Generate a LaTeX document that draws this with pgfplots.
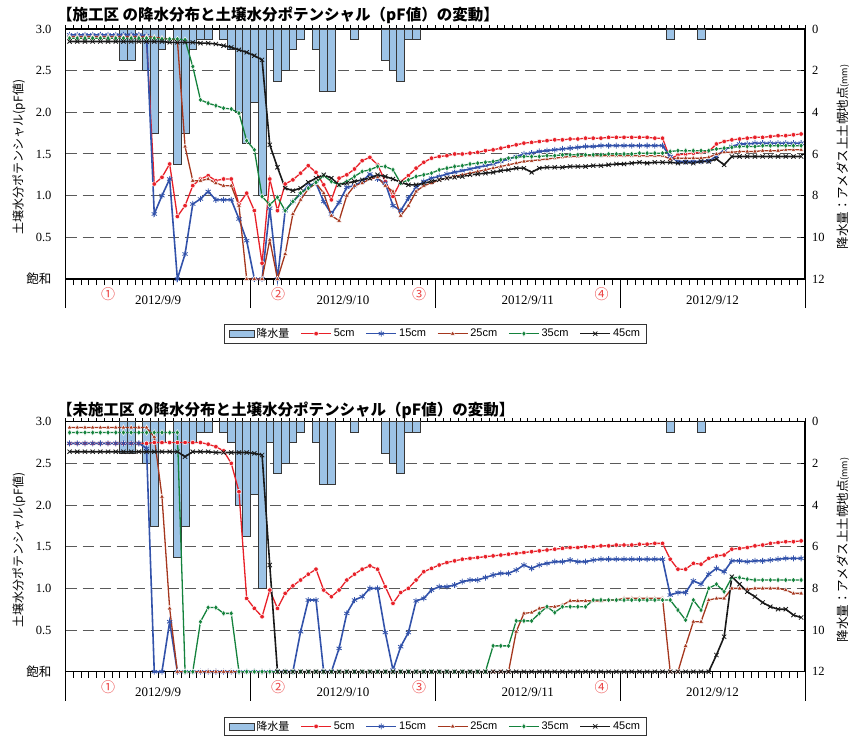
\documentclass[border=0pt]{standalone}
\usepackage{pgfplots}
\pgfplotsset{compat=1.18}
\usepackage{pgfplotstable}
\usepackage{fontspec}
\setmainfont{Liberation Serif}
\newfontfamily\jp{Noto Sans CJK JP}
\newfontfamily\lsans{Liberation Sans}

\definecolor{c5}{RGB}{232,32,40}
\definecolor{c15}{RGB}{50,82,170}
\definecolor{c25}{RGB}{165,55,30}
\definecolor{c35}{RGB}{20,130,60}
\definecolor{c45}{RGB}{25,25,25}
\definecolor{barfill}{RGB}{157,195,230}
\definecolor{baredge}{RGB}{55,55,55}
\definecolor{gridc}{RGB}{90,90,90}
\definecolor{numred}{RGB}{235,70,70}

% hourly rainfall (mm), hour index 1..96 from 2012/9/9 0:00
\pgfplotstableread{
i mm
8 1.5
9 1.5
11 2.0
12 5.0
13 1.0
15 6.5
16 5.0
17 1.0
18 0.5
19 0.5
21 0.5
22 1.0
23 4.0
24 5.5
25 3.5
26 8.0
27 1.0
28 2.5
29 2.0
30 1.0
31 0.5
33 1.0
34 3.0
35 3.0
38 0.5
42 1.5
43 2.0
44 2.5
45 0.5
46 0.5
79 0.5
83 0.5
}\rain

% pF values, treated plot: r=5cm b=15cm t=25cm g=35cm k=45cm
\pgfplotstableread{
i r b t g k
1 2.89 2.93 2.91 2.89 2.85
2 2.89 2.93 2.91 2.89 2.85
3 2.89 2.93 2.91 2.89 2.85
4 2.89 2.93 2.91 2.89 2.85
5 2.89 2.93 2.91 2.89 2.85
6 2.89 2.93 2.91 2.89 2.85
7 2.89 2.93 2.91 2.89 2.85
8 2.89 2.93 2.91 2.89 2.85
9 2.89 2.93 2.91 2.89 2.85
10 2.89 2.93 2.91 2.89 2.85
11 2.89 2.92 2.91 2.89 2.85
12 1.14 0.78 2.90 2.89 2.85
13 1.22 1.00 2.89 2.88 2.85
14 1.38 1.20 2.88 2.88 2.84
15 0.75 0.00 2.87 2.88 2.84
16 0.88 0.30 1.59 2.87 2.84
17 1.12 0.90 1.18 2.55 2.84
18 1.20 0.96 1.18 2.15 2.83
19 1.24 1.05 1.20 2.11 2.83
20 1.18 0.95 1.15 2.08 2.82
21 1.20 0.95 1.12 2.05 2.80
22 1.20 0.95 1.12 2.04 2.78
23 0.90 0.72 0.88 1.99 2.75
24 1.03 0.46 0.00 1.66 2.72
25 0.82 0.00 0.00 1.55 2.68
26 0.19 0.00 0.00 0.99 2.63
27 1.20 0.85 0.47 0.89 1.61
28 0.82 0.00 0.00 0.98 1.34
29 1.14 0.82 0.30 0.82 1.09
30 1.19 0.93 0.78 0.93 1.06
31 1.27 1.02 0.95 1.03 1.09
32 1.36 1.12 1.08 1.09 1.16
33 1.28 1.15 1.15 1.16 1.21
34 1.13 0.93 1.03 1.24 1.25
35 0.95 0.78 0.76 1.17 1.21
36 1.21 0.92 0.70 1.13 1.13
37 1.25 1.10 1.00 1.17 1.15
38 1.32 1.12 1.12 1.23 1.17
39 1.42 1.17 1.15 1.29 1.19
40 1.46 1.26 1.20 1.31 1.21
41 1.37 1.20 1.22 1.35 1.25
42 1.17 1.15 1.12 1.35 1.23
43 0.99 0.88 1.05 1.31 1.20
44 1.17 0.82 0.76 1.15 1.16
45 1.24 0.97 0.88 1.19 1.13
46 1.33 1.10 1.05 1.23 1.13
47 1.40 1.17 1.12 1.25 1.15
48 1.45 1.21 1.15 1.27 1.17
49 1.47 1.23 1.19 1.31 1.19
50 1.48 1.26 1.21 1.33 1.21
51 1.50 1.28 1.23 1.35 1.22
52 1.50 1.30 1.25 1.36 1.23
53 1.51 1.32 1.27 1.38 1.25
54 1.52 1.34 1.29 1.39 1.26
55 1.54 1.36 1.31 1.40 1.27
56 1.55 1.38 1.33 1.41 1.28
57 1.57 1.41 1.35 1.43 1.30
58 1.59 1.44 1.37 1.45 1.31
59 1.61 1.47 1.39 1.46 1.33
60 1.63 1.50 1.41 1.47 1.33
61 1.64 1.51 1.42 1.47 1.28
62 1.65 1.53 1.43 1.47 1.33
63 1.66 1.54 1.44 1.48 1.34
64 1.67 1.55 1.45 1.48 1.34
65 1.67 1.56 1.46 1.49 1.34
66 1.68 1.57 1.47 1.49 1.35
67 1.68 1.58 1.47 1.49 1.35
68 1.69 1.59 1.48 1.49 1.35
69 1.69 1.59 1.48 1.49 1.36
70 1.69 1.60 1.48 1.49 1.36
71 1.70 1.60 1.48 1.50 1.37
72 1.70 1.60 1.48 1.50 1.38
73 1.70 1.60 1.48 1.50 1.38
74 1.70 1.60 1.48 1.50 1.39
75 1.70 1.60 1.48 1.51 1.40
76 1.70 1.60 1.48 1.51 1.39
77 1.69 1.60 1.48 1.51 1.40
78 1.69 1.60 1.48 1.51 1.40
79 1.44 1.47 1.44 1.53 1.40
80 1.49 1.41 1.45 1.54 1.39
81 1.50 1.41 1.45 1.54 1.40
82 1.51 1.41 1.45 1.54 1.39
83 1.52 1.41 1.45 1.54 1.41
84 1.53 1.42 1.46 1.54 1.41
85 1.62 1.47 1.50 1.56 1.44
86 1.65 1.55 1.52 1.57 1.37
87 1.67 1.59 1.52 1.58 1.47
88 1.68 1.62 1.53 1.59 1.47
89 1.69 1.62 1.53 1.59 1.47
90 1.70 1.63 1.53 1.59 1.47
91 1.70 1.63 1.54 1.60 1.47
92 1.71 1.63 1.54 1.60 1.47
93 1.72 1.63 1.54 1.60 1.47
94 1.72 1.63 1.55 1.60 1.47
95 1.73 1.63 1.55 1.60 1.47
96 1.74 1.63 1.55 1.60 1.47
}\treated

% pF values, untreated plot
\pgfplotstableread{
i r b t g k
1 2.74 2.74 2.93 2.87 2.64
2 2.74 2.74 2.93 2.87 2.64
3 2.74 2.74 2.93 2.87 2.64
4 2.74 2.74 2.93 2.87 2.64
5 2.74 2.74 2.93 2.87 2.64
6 2.74 2.74 2.93 2.87 2.64
7 2.74 2.74 2.93 2.87 2.64
8 2.74 2.74 2.93 2.87 2.64
9 2.74 2.74 2.93 2.87 2.64
10 2.74 2.74 2.93 2.87 2.64
11 2.74 2.68 2.93 2.87 2.64
12 2.75 0.00 2.82 2.87 2.64
13 2.75 0.00 2.10 2.87 2.64
14 2.75 0.60 0.76 2.87 2.64
15 2.75 0.00 0.00 2.87 2.64
16 2.75 0.00 0.00 0.00 2.58
17 2.75 0.00 0.00 0.00 2.64
18 2.75 0.00 0.00 0.60 2.64
19 2.73 0.00 0.00 0.77 2.64
20 2.70 0.00 0.00 0.77 2.63
21 2.65 0.00 0.00 0.70 2.63
22 2.50 0.00 0.00 0.70 2.63
23 2.16 0.00 0.00 0.00 2.63
24 0.88 0.00 0.00 0.00 2.63
25 0.76 0.00 0.00 0.00 2.62
26 0.66 0.00 0.00 0.00 2.60
27 0.98 0.00 0.00 0.00 1.28
28 0.76 0.00 0.00 0.00 0.00
29 0.94 0.00 0.00 0.00 0.00
30 1.03 0.00 0.00 0.00 0.00
31 1.10 0.48 0.00 0.00 0.00
32 1.17 0.86 0.00 0.00 0.00
33 1.23 0.86 0.00 0.00 0.00
34 0.98 0.00 0.00 0.00 0.00
35 0.90 0.00 0.00 0.00 0.00
36 0.98 0.28 0.00 0.00 0.00
37 1.10 0.70 0.00 0.00 0.00
38 1.17 0.86 0.00 0.00 0.00
39 1.23 0.90 0.00 0.00 0.00
40 1.27 1.00 0.00 0.00 0.00
41 1.23 1.00 0.00 0.00 0.00
42 1.02 0.47 0.00 0.00 0.00
43 0.82 0.02 0.00 0.00 0.00
44 0.95 0.30 0.00 0.00 0.00
45 1.00 0.47 0.00 0.00 0.00
46 1.10 0.85 0.00 0.00 0.00
47 1.20 0.88 0.00 0.00 0.00
48 1.24 0.98 0.00 0.00 0.00
49 1.28 1.02 0.00 0.00 0.00
50 1.31 1.02 0.00 0.00 0.00
51 1.33 1.04 0.00 0.00 0.00
52 1.35 1.08 0.00 0.00 0.00
53 1.36 1.10 0.00 0.00 0.00
54 1.37 1.10 0.00 0.00 0.00
55 1.38 1.13 0.00 0.00 0.00
56 1.39 1.16 0.00 0.31 0.00
57 1.40 1.18 0.00 0.31 0.00
58 1.41 1.18 0.00 0.31 0.00
59 1.42 1.22 0.48 0.61 0.00
60 1.43 1.28 0.70 0.61 0.00
61 1.44 1.24 0.71 0.61 0.00
62 1.45 1.28 0.76 0.70 0.00
63 1.46 1.30 0.78 0.78 0.00
64 1.47 1.32 0.78 0.71 0.00
65 1.48 1.32 0.80 0.78 0.00
66 1.49 1.34 0.85 0.78 0.00
67 1.49 1.32 0.85 0.78 0.00
68 1.50 1.32 0.85 0.78 0.00
69 1.50 1.34 0.85 0.86 0.00
70 1.51 1.35 0.85 0.86 0.00
71 1.51 1.35 0.86 0.86 0.00
72 1.52 1.35 0.86 0.86 0.00
73 1.52 1.35 0.88 0.86 0.00
74 1.52 1.35 0.88 0.86 0.00
75 1.53 1.35 0.88 0.86 0.00
76 1.53 1.35 0.88 0.86 0.00
77 1.54 1.35 0.88 0.86 0.00
78 1.54 1.35 0.88 0.86 0.00
79 1.35 0.92 0.00 0.86 0.00
80 1.23 0.95 0.00 0.74 0.00
81 1.23 0.95 0.31 0.62 0.00
82 1.30 1.09 0.60 0.86 0.00
83 1.29 1.05 0.60 0.74 0.00
84 1.36 1.17 0.86 1.00 0.00
85 1.39 1.24 0.88 1.05 0.20
86 1.40 1.20 0.88 0.96 0.42
87 1.47 1.33 1.00 1.13 1.14
88 1.48 1.33 1.00 1.13 1.05
89 1.49 1.32 0.99 1.11 0.96
90 1.51 1.33 1.00 1.10 0.90
91 1.52 1.33 1.00 1.10 0.83
92 1.54 1.34 1.00 1.10 0.78
93 1.55 1.35 1.00 1.10 0.75
94 1.56 1.36 0.98 1.10 0.75
95 1.56 1.36 0.94 1.10 0.68
96 1.57 1.36 0.94 1.10 0.65
}\untreated

\pgfplotsset{
  panel/.style={scale only axis, width=739.3pt, height=250pt, anchor=south west,
    xmin=0.5, xmax=96.5, axis line style={line width=1.2pt, black}},
  % rainfall hangs from the top edge: drawn downwards as negative depth
  rainaxis/.style={panel, ymin=-12, ymax=0,
    axis x line*=top, axis y line*=right,
    xtick={0.5,1.5,...,96.5}, xticklabels={},
    ytick={-12,-10,-8,-6,-4,-2,0}, yticklabels={12,10,8,6,4,2,0},
    yticklabel style={font=\fontsize{12.5}{13}\selectfont, anchor=west, inner sep=0pt, xshift=7pt},
    tick align=inside, major tick length=3.5pt,
    tick style={black, line width=0.8pt},
    ymajorgrids, grid style={gridc, line width=1pt, dash pattern=on 11pt off 6pt},
    ybar, bar width=1},
  pfaxis/.style={panel, ymin=0, ymax=3, clip=false,
    axis x line*=bottom, axis y line*=left,
    xtick={0.5,1.5,...,96.5}, xticklabels={},
    tick align=outside, major tick length=6pt,
    xtick style={black, line width=0.8pt},
    extra x ticks={0.5,24.5,48.5,72.5,96.5}, extra x tick labels={},
    extra x tick style={major tick length=29pt, tick style={black!70, line width=1pt}},
    ytick={0,0.5,1,1.5,2,2.5,3},
    yticklabels={{\jp 飽和},0.5,1.0,1.5,2.0,2.5,3.0},
    ytick style={draw=none},
    yticklabel style={font=\fontsize{12.5}{13}\selectfont, anchor=east, inner sep=0pt, xshift=-8pt},
    legend style={at={(0.5,-0.18)}, anchor=north, legend columns=-1, draw=black!80,
      line width=0.6pt, font=\fontsize{11}{13}\selectfont\lsans, inner xsep=4pt, inner ysep=2pt,
      /tikz/every even column/.append style={column sep=9pt}},
    legend image code/.code={\draw[mark repeat=2,mark phase=2,#1] plot coordinates {(0pt,0pt) (15pt,0pt) (30pt,0pt)};}},
  s5/.style={c5, line width=1.3pt, mark=*, mark size=2.3pt, mark options={fill=c5, draw=white, line width=0.5pt}},
  s15/.style={c15, line width=1.6pt, mark=asterisk, mark size=3pt, mark options={line width=0.8pt}},
  s25/.style={c25, line width=1.3pt, mark=triangle*, mark size=2.8pt, mark options={fill=c25, draw=white, line width=0.5pt}},
  s35/.style={c35, line width=1.3pt, mark=diamond*, mark size=2.9pt, mark options={fill=c35, draw=white, line width=0.5pt}},
  s45/.style={c45, line width=1.6pt, mark=x, mark size=3pt, mark options={line width=0.8pt}},
}

\newcommand{\daylabels}{%
  \node[font=\fontsize{13}{13}\selectfont] at (axis cs:12.5,0) [yshift=-21pt] {2012/9/9};
  \node[font=\fontsize{13}{13}\selectfont] at (axis cs:36.5,0) [yshift=-21pt] {2012/9/10};
  \node[font=\fontsize{13}{13}\selectfont] at (axis cs:60.5,0) [yshift=-21pt] {2012/9/11};
  \node[font=\fontsize{13}{13}\selectfont] at (axis cs:84.5,0) [yshift=-21pt] {2012/9/12};
  \node[font=\jp\fontsize{14}{14}\selectfont, text=numred] at (axis cs:6.0,0) [yshift=-15pt] {①};
  \node[font=\jp\fontsize{14}{14}\selectfont, text=numred] at (axis cs:28.1,0) [yshift=-15pt] {②};
  \node[font=\jp\fontsize{14}{14}\selectfont, text=numred] at (axis cs:46.4,0) [yshift=-15pt] {③};
  \node[font=\jp\fontsize{14}{14}\selectfont, text=numred] at (axis cs:70.1,0) [yshift=-15pt] {④};
}

\begin{document}
\begin{tikzpicture}
\useasboundingbox (0pt,0pt) rectangle (855pt,-738pt);

% ---------- treated plot ----------
\begin{axis}[rainaxis, at={(65.7pt,-279pt)}]
  \addplot[fill=barfill, draw=baredge, line width=0.7pt] table[x=i,y expr=-\thisrow{mm}]{\rain};
\end{axis}
\begin{axis}[pfaxis, at={(65.7pt,-279pt)}]
  \addlegendimage{legend image code/.code={\draw[fill=barfill,draw=baredge,line width=0.7pt] (0pt,-3.5pt) rectangle (25pt,3.5pt);}}
  \addlegendentry{\jp 降水量}
  \addplot[s5] table[x=i,y=r]{\treated}; \addlegendentry{5cm}
  \addplot[s15] table[x=i,y=b]{\treated}; \addlegendentry{15cm}
  \addplot[s25] table[x=i,y=t]{\treated}; \addlegendentry{25cm}
  \addplot[s35] table[x=i,y=g]{\treated}; \addlegendentry{35cm}
  \addplot[s45] table[x=i,y=k]{\treated}; \addlegendentry{45cm}
  \daylabels
\end{axis}

% ---------- untreated plot ----------
\begin{axis}[rainaxis, at={(65.7pt,-671.7pt)}]
  \addplot[fill=barfill, draw=baredge, line width=0.7pt] table[x=i,y expr=-\thisrow{mm}]{\rain};
\end{axis}
\begin{axis}[pfaxis, at={(65.7pt,-671.7pt)}]
  \addlegendimage{legend image code/.code={\draw[fill=barfill,draw=baredge,line width=0.7pt] (0pt,-3.5pt) rectangle (25pt,3.5pt);}}
  \addlegendentry{\jp 降水量}
  \addplot[s5] table[x=i,y=r]{\untreated}; \addlegendentry{5cm}
  \addplot[s15] table[x=i,y=b]{\untreated}; \addlegendentry{15cm}
  \addplot[s25] table[x=i,y=t]{\untreated}; \addlegendentry{25cm}
  \addplot[s35] table[x=i,y=g]{\untreated}; \addlegendentry{35cm}
  \addplot[s45] table[x=i,y=k]{\untreated}; \addlegendentry{45cm}
  \daylabels
\end{axis}

% titles and axis titles
\node[anchor=west, inner sep=0pt, font=\jp\bfseries\fontsize{15.5}{15.5}\selectfont] at (57pt,-15.5pt)
  {【施工区 の降水分布と土壌水分ポテンシャル（pF値）の変動】};
\node[anchor=west, inner sep=0pt, font=\jp\bfseries\fontsize{15.5}{15.5}\selectfont] at (57pt,-410pt)
  {【未施工区 の降水分布と土壌水分ポテンシャル（pF値）の変動】};
\foreach \yc in {-157pt,-550pt} {
  \node[rotate=90, font=\jp\fontsize{12}{12}\selectfont] at (19pt,\yc) {土壌水分ポテンシャル(pF値)};
  \node[rotate=90, font=\jp\fontsize{12.5}{12.5}\selectfont] at (843pt,\yc) {降水量：アメダス上土幌地点{\fontsize{9}{9}\selectfont (mm)}};
}
\end{tikzpicture}
\end{document}
